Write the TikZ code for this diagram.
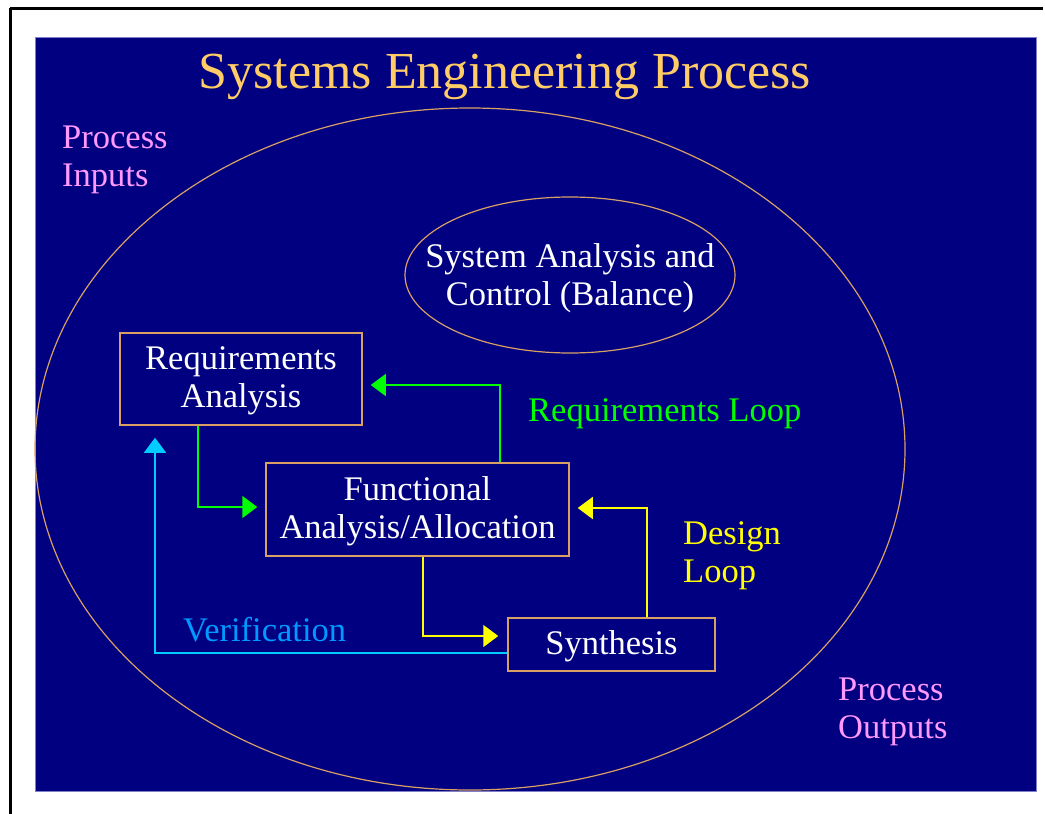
\documentclass[tikz,border=0pt]{standalone}
\usepackage{fontspec}
\setmainfont{Liberation Serif}
\usetikzlibrary{arrows.meta,shapes.geometric,calc}
\definecolor{navy}{HTML}{000080}
\definecolor{tan}{HTML}{D9A066}
\definecolor{titlec}{HTML}{FFCC66}
\definecolor{pinkc}{HTML}{FF99FF}
\definecolor{greenc}{HTML}{00FF00}
\definecolor{yellowc}{HTML}{FFFF00}
\definecolor{cyanc}{HTML}{00CCFF}
\definecolor{verc}{HTML}{0099FF}
\definecolor{edgec}{HTML}{8080C8}
\tikzset{
  stdfont/.style={font=\fontsize{34.5}{38}\selectfont},
  procbox/.style={draw=tan, line width=1.5pt, fill=navy, text=white, stdfont, align=center, inner sep=0pt, text depth=3pt},
  lbl/.style={stdfont, inner sep=0pt, align=left, anchor=west},
  conn/.style={line width=1.5pt, -{Triangle[length=15pt,width=22pt]}},
}
\begin{document}
\begin{tikzpicture}[x=1pt,y=-1pt]
\useasboundingbox (0,0) rectangle (1045,814);
\fill[white] (0,0) rectangle (1045,814);
\draw[black, line width=3pt] (10,8.5) -- (1043,8.5);
\draw[black, line width=3pt] (10.5,8) -- (10.5,814);
\fill[navy] (35,37) rectangle (1036,791);
\draw[edgec, line width=0.8pt] (35,37) rectangle (1036,791);
% title
\node[font=\fontsize{52}{60}\selectfont, text=titlec, inner sep=0] (title) at (505,77) {Systems Engineering Process};
% big ellipse
\node[ellipse, draw=tan, line width=1.2pt, minimum width=870pt, minimum height=682pt, inner sep=0] (big) at (470,449) {};
% small ellipse
\node[ellipse, draw=tan, line width=1.2pt, minimum width=330pt, minimum height=156pt, inner sep=0] (sac) at (570,275) {};
\node[text=white, stdfont, align=center, inner sep=0] (sactext) at ([yshift=-3pt]sac.center) {System Analysis and\\Control (Balance)};
% boxes
\node[procbox, minimum width=242pt, minimum height=92pt] (req) at (241,379) {Requirements\\Analysis};
\node[procbox, minimum width=303pt, minimum height=93pt] (func) at (417.5,509.5) {Functional\\Analysis/Allocation};
\node[procbox, minimum width=207pt, minimum height=53pt] (syn) at (611.5,644.5) {Synthesis};
% labels
\node[lbl, text=pinkc] (pin) at (62,160) {Process\\Inputs};
\node[lbl, text=pinkc] (pout) at (838,712) {Process\\Outputs};
\node[lbl, text=greenc] (rloop) at (528,414) {Requirements Loop};
\node[lbl, text=yellowc] (dloop) at (683,556) {Design\\Loop};
\node[lbl, text=verc] (ver) at (183,630) {Verification};
% connectors
\draw[conn, greenc, shorten >=8pt] ([xshift=-43pt]req.south) |- ([yshift=2.5pt]func.west);
\draw[conn, greenc, shorten >=8pt] ([xshift=82.5pt]func.north) |- ([yshift=-6pt]req.east);
\draw[conn, yellowc, shorten >=9pt] ([xshift=5.5pt]func.south) |- ([yshift=8.5pt]syn.west);
\draw[conn, yellowc, shorten >=8pt] ([xshift=35.5pt]syn.north) |- ([yshift=1.5pt]func.east);
\draw[conn, cyanc, shorten >=12pt] ([yshift=-8.5pt]syn.west) -| ([xshift=-86pt]req.south);
\end{tikzpicture}
\end{document}
